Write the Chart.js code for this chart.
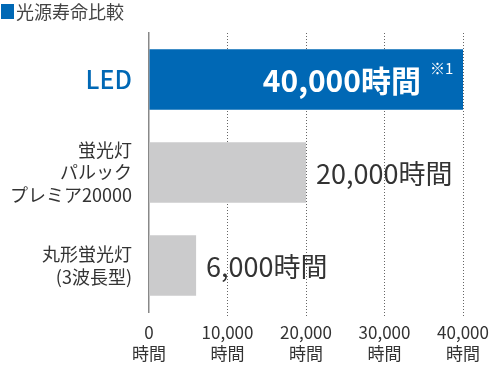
<!DOCTYPE html>
<html lang="ja">
<head>
<meta charset="utf-8">
<script src="https://cdn.jsdelivr.net/npm/chart.js@4/dist/chart.umd.min.js"></script>
<style>
  html, body { margin: 0; padding: 0; background: #fff; }
  #wrap { width: 490px; height: 368px; position: relative; }
</style>
</head>
<body>
<div id="wrap"><canvas id="chart"></canvas></div>
<script>
const title = '光源寿命比較';
const categories = [['LED'], ['蛍光灯', 'パルック', 'プレミア20000'], ['丸形蛍光灯', '(3波長型)']];
const hours = [40000, 20000, 6000];
const valueLabels = ['40,000時間', '20,000時間', '6,000時間'];
const noteLabels = ['※1', '', ''];
const xTicks = [0, 10000, 20000, 30000, 40000];
const barColors = ['#0068b5', '#cbcbcc', '#cbcbcc'];

const JP = '"Noto Sans CJK JP", "Noto Sans", sans-serif';

const labelPlugin = {
    id: 'labels',
    afterDraw(chart) {
        const ctx = chart.ctx;
        // heading
        ctx.save();
        ctx.fillStyle = barColors[0];
        ctx.fillRect(1, 4, 13, 15);
        ctx.fillStyle = '#444';
        ctx.font = '18px ' + JP;
        ctx.textBaseline = 'middle';
        ctx.textAlign = 'left';
        ctx.fillText(title, 16, 12);

        // value labels
        const meta = chart.getDatasetMeta(0);
        meta.data.forEach((bar, i) => {
            if (i === 0) {
                ctx.fillStyle = '#fff';
                ctx.font = 'bold 30px ' + JP;
                ctx.textAlign = 'right';
                ctx.fillText(valueLabels[i], bar.x - 42, bar.y + 1);
                ctx.font = '15px ' + JP;
                ctx.textAlign = 'left';
                ctx.fillText(noteLabels[i], bar.x - 33, bar.y - 11);
            } else {
                ctx.fillStyle = '#333';
                ctx.font = '27px ' + JP;
                ctx.textAlign = 'left';
                ctx.fillText(valueLabels[i], bar.x + 10, bar.y + 1);
            }
        });
        ctx.restore();
    }
};

new Chart(document.getElementById('chart'), {
    type: 'bar',
    data: {
        labels: categories,
        datasets: [{
            data: hours,
            backgroundColor: barColors,
            borderWidth: 0,
            barPercentage: 0.65,
            categoryPercentage: 1,
        }],
    },
    options: {
        indexAxis: 'y',
        responsive: true,
        maintainAspectRatio: false,
        animation: false,
        layout: { padding: { top: 33, right: 27, left: 0, bottom: 0 } },
        plugins: {
            legend: { display: false },
            tooltip: { enabled: false },
        },
        scales: {
            x: {
                min: 0,
                max: 40000,
                afterBuildTicks(scale) {
                    scale.ticks = xTicks.map(v => ({ value: v }));
                },
                afterFit(scale) {
                    scale.height = 56;
                    scale.paddingRight = 0;
                    scale.paddingLeft = 0;
                },
                border: { display: false, dash: [1, 2] },
                grid: {
                    color: (c) => c.index === 0 ? 'rgba(0,0,0,0)' : '#666',
                    lineWidth: 1,
                    tickLength: 6,
                    drawTicks: true,
                    tickBorderDash: [1, 2],
                },
                ticks: {
                    padding: 4,
                    maxRotation: 0,
                    autoSkip: false,
                    color: '#333',
                    font: { size: 17, family: JP, lineHeight: 1.25 },
                    callback: (v) => [v.toLocaleString('en-US'), '時間'],
                },
            },
            y: {
                afterFit(scale) { scale.width = 149; },
                border: { display: true, color: '#888', width: 1.5 },
                grid: { display: false },
                ticks: {
                    padding: 9,
                    autoSkip: false,
                    color: (c) => c.index === 0 ? barColors[0] : '#333',
                    font: (c) => c.index === 0
                        ? { size: 25, weight: 500, family: JP, lineHeight: 1.2 }
                        : { size: 18, family: JP, lineHeight: 1.25 },
                },
            },
        },
    },
    plugins: [labelPlugin],
});
</script>
</body>
</html>
